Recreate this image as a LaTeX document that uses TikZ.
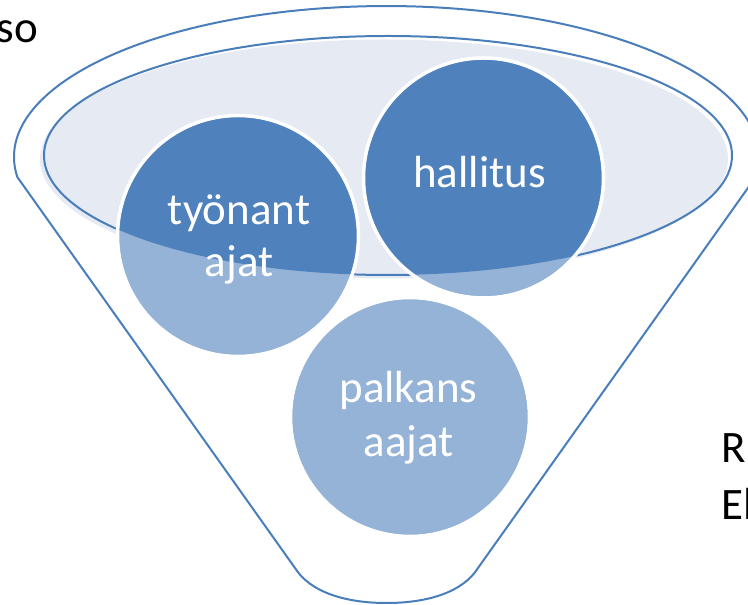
\documentclass[tikz,border=0pt]{standalone}
\usepackage{fontspec}
\setmainfont{Carlito}
\definecolor{dblue}{RGB}{79,129,189}
\definecolor{lblue}{RGB}{149,179,215}
\definecolor{efill}{RGB}{230,234,243}
\definecolor{eline}{RGB}{74,126,187}
\begin{document}
\begin{tikzpicture}[x=1pt,y=1pt,
  outline/.style={draw=eline, line width=2pt, line join=round},
  ring/.style={draw=white, line width=3.5pt},
  wlabel/.style={text=white, font=\fontsize{45}{54}\selectfont, inner sep=0pt, anchor=base},
  blabel/.style={text=black, font=\fontsize{45}{54}\selectfont, inner sep=0pt}]
\useasboundingbox (0,0) rectangle (748,605);
\clip (0,0) rectangle (748,605);
% funnel outline
\draw[outline] (17.3,428) arc[start angle=187.6, end angle=-7.6, x radius=372.5, y radius=151]
  -- (478,37) .. controls (463,13) and (428,2) .. (386.5,2)
  .. controls (345,2) and (310,13) .. (295,37) -- cycle;
% inner ellipse
\fill[efill] (384,446) ellipse[x radius=344, y radius=119.5];
\draw[outline] (388,449.5) ellipse[x radius=344, y radius=119.5];
% circles (light parts)
\fill[lblue] (238,369) circle[radius=119];
\fill[lblue] (483.5,427) circle[radius=118.5];
\fill[lblue] (410,188) circle[radius=118];
% dark parts inside the ellipse
\begin{scope}
  \clip (388,449.5) ellipse[x radius=344, y radius=119.5];
  \fill[dblue] (238,369) circle[radius=119];
  \fill[dblue] (483.5,427) circle[radius=118.5];
\end{scope}
% white rims
\draw[ring] (238,369) circle[radius=120.5];
\draw[ring] (483.5,427) circle[radius=120];
\draw[ring] (410,188) circle[radius=119.5];
% labels
\node[wlabel] (t1) at (239,380) {työnant};
\node[wlabel] (t2) at (239,328) {ajat};
\node[wlabel] (h) at (479.5,417) {hallitus};
\node[wlabel] (p1) at (408.5,202) {palkans};
\node[wlabel] (p2) at (408.5,148) {aajat};
\node[blabel, anchor=base east] (so) at (38.5,562) {so};
\node[blabel, anchor=base west] (r) at (721,142) {R};
\node[blabel, anchor=base west] (el) at (721,85) {El};
\end{tikzpicture}
\end{document}
